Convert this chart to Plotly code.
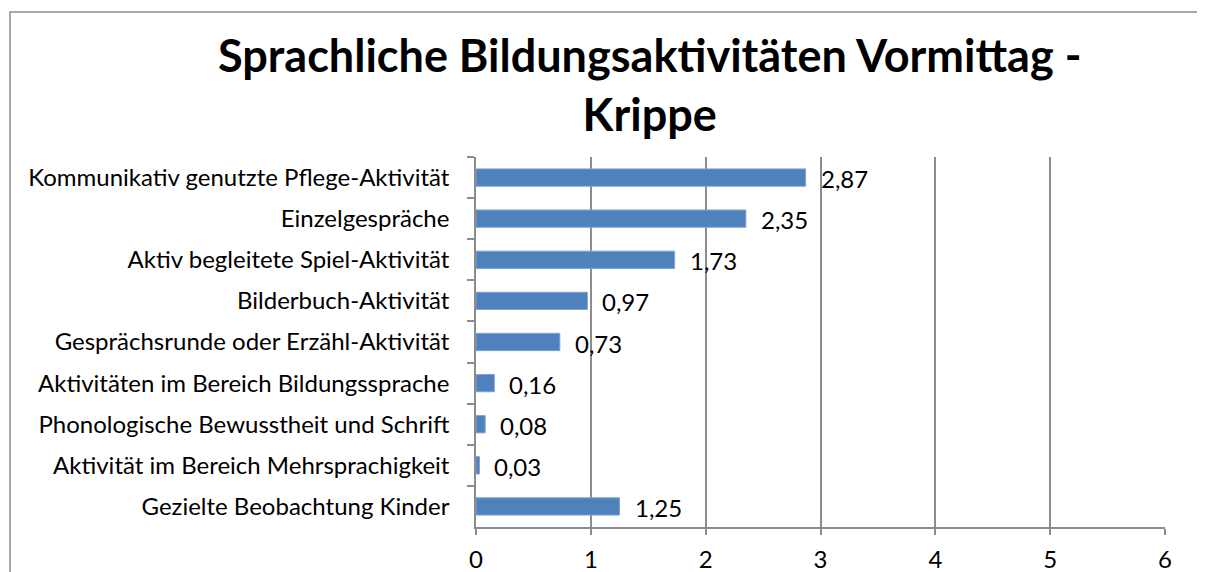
import plotly.graph_objects as go

categories = [
    "Kommunikativ genutzte Pflege-Aktivität",
    "Einzelgespräche",
    "Aktiv begleitete Spiel-Aktivität",
    "Bilderbuch-Aktivität",
    "Gesprächsrunde oder Erzähl-Aktivität",
    "Aktivitäten im Bereich Bildungssprache",
    "Phonologische Bewusstheit und Schrift",
    "Aktivität im Bereich Mehrsprachigkeit",
    "Gezielte Beobachtung Kinder",
]
values = [2.87, 2.35, 1.73, 0.97, 0.73, 0.16, 0.08, 0.03, 1.25]
labels = [f"{v:.2f}".replace(".", ",") for v in values]
x_ticks = [0, 1, 2, 3, 4, 5, 6]

OFF = 8  # page body margin
W, H = 1205 - OFF, 572 - OFF
L, R, T, B = 476 - OFF, 1165 - OFF, 157 - OFF, 527 - OFF
FONT = "Lato"
FS = 24

fig = go.Figure(go.Bar(
    x=values, y=categories, orientation="h",
    marker=dict(color="#4F81BD", line=dict(color="#7FA3D0", width=1)),
    width=0.42,
))

for c, v, t in zip(categories, values, labels):
    fig.add_annotation(x=v, y=c, xref="x", yref="y", text=t, showarrow=False,
                       xanchor="left", yanchor="middle", xshift=13, yshift=-1,
                       font=dict(family=FONT, size=FS, color="#000"))

pw, ph = R - L, B - T
def px(x): return (x - OFF - L) / pw
def py(y): return (B - (y - OFF)) / ph

fig.add_shape(type="rect", xref="paper", yref="paper",
              x0=px(10), x1=px(1400), y0=py(700), y1=py(12),
              line=dict(color="#8C8C8C", width=1.5), layer="below")

fig.add_annotation(xref="paper", yref="paper", x=px(649), y=py(84),
                   text="<b>Sprachliche Bildungsaktivitäten Vormittag -<br>Krippe</b>",
                   showarrow=False, xanchor="center", yanchor="middle",
                   font=dict(family=FONT, size=45, color="#000"))

fig.update_layout(
    width=W, height=H, margin=dict(l=L, r=W - R, t=T, b=H - B, autoexpand=False),
    paper_bgcolor="white", plot_bgcolor="white", showlegend=False,
    font=dict(family=FONT, size=FS, color="#000"),
    xaxis=dict(range=[0, 6], tickvals=x_ticks, ticktext=[str(t) for t in x_ticks],
               showgrid=True, gridcolor="#8C8C8C", gridwidth=1.5,
               showline=True, linecolor="#8C8C8C", linewidth=1.5,
               ticks="outside", ticklen=6, tickcolor="#8C8C8C", tickwidth=1.5,
               ticklabelstandoff=4, automargin=False,
               tickfont=dict(size=FS), zeroline=False, fixedrange=True),
    yaxis=dict(categoryorder="array", categoryarray=categories, autorange="reversed",
               showline=True, linecolor="#8C8C8C", linewidth=1.5,
               ticks="outside", ticklen=7, tickcolor="#8C8C8C", tickwidth=1.5,
               tickson="boundaries", showgrid=False, ticklabelstandoff=20,
               automargin=False,
               tickfont=dict(size=FS), fixedrange=True),
)

fig.write_html("out.html")
